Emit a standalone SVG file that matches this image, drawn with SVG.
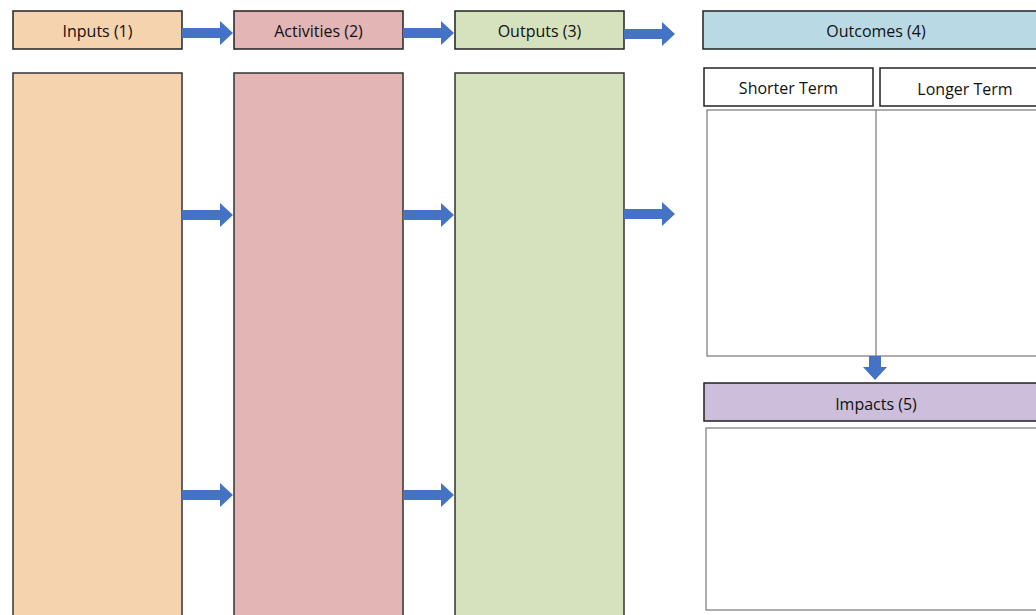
<svg xmlns="http://www.w3.org/2000/svg" width="1036" height="615" viewBox="0 0 1036 615">
<defs>
<style>
.hd{stroke:#222;stroke-width:1.5}
.col{stroke:#333;stroke-width:1.5}
.box{fill:#fff;stroke:#777;stroke-width:1.2}
.t{font-family:"Open Sans","Liberation Sans",sans-serif;font-size:16px;fill:#111;text-anchor:middle;dominant-baseline:central}
.ar{fill:#4472c4}
</style>
<path id="ra" d="M0,-5 L38,-5 L38,-12 L51,0 L38,12 L38,5 L0,5 Z"/>
</defs>
<rect width="1036" height="615" fill="#fff"/>
<g id="inputs">
<rect class="hd" x="13" y="11" width="169" height="38" fill="#f5d3ae"/>
<text class="t" x="97.5" y="31">Inputs (1)</text>
<rect class="col" x="13" y="73" width="169" height="560" fill="#f5d3ae"/>
</g>
<g id="activities">
<rect class="hd" x="234" y="11" width="169" height="38" fill="#e3b5b5"/>
<text class="t" x="318.5" y="31">Activities (2)</text>
<rect class="col" x="234" y="73" width="169" height="560" fill="#e3b5b5"/>
</g>
<g id="outputs">
<rect class="hd" x="455" y="11" width="169" height="38" fill="#d5e2bd"/>
<text class="t" x="539.5" y="31">Outputs (3)</text>
<rect class="col" x="455" y="73" width="169" height="560" fill="#d5e2bd"/>
</g>
<g id="outcomes">
<rect class="hd" x="703" y="11" width="345" height="38" fill="#b9d9e5"/>
<text class="t" x="876" y="31">Outcomes (4)</text>
</g>
<g id="shorter">
<rect class="hd" x="704" y="68" width="169" height="38" fill="#fff"/>
<text class="t" x="788.5" y="88">Shorter Term</text>
</g>
<g id="longer">
<rect class="hd" x="880" y="68" width="170" height="38" fill="#fff"/>
<text class="t" x="965" y="89">Longer Term</text>
</g>
<g id="outcome-body">
<rect class="box" x="707" y="110" width="345" height="246"/>
<line x1="876" y1="110" x2="876" y2="356" stroke="#777" stroke-width="1.2"/>
</g>
<g id="impacts">
<rect class="hd" x="704" y="383" width="346" height="38" fill="#cdbfdb"/>
<text class="t" x="876" y="404">Impacts (5)</text>
</g>
<g id="impact-body">
<rect class="box" x="706" y="428" width="345" height="182"/>
</g>
<g id="connectors" class="ar">
<use href="#ra" x="182" y="33"/>
<use href="#ra" x="403" y="33"/>
<use href="#ra" x="624" y="34"/>
<use href="#ra" x="182" y="215"/>
<use href="#ra" x="403" y="215"/>
<use href="#ra" x="624" y="214"/>
<use href="#ra" x="182" y="495"/>
<use href="#ra" x="403" y="495"/>
<path d="M869,356 L881,356 L881,367 L887,367 L875,380 L863,367 L869,367 Z"/>
</g>
</svg>
